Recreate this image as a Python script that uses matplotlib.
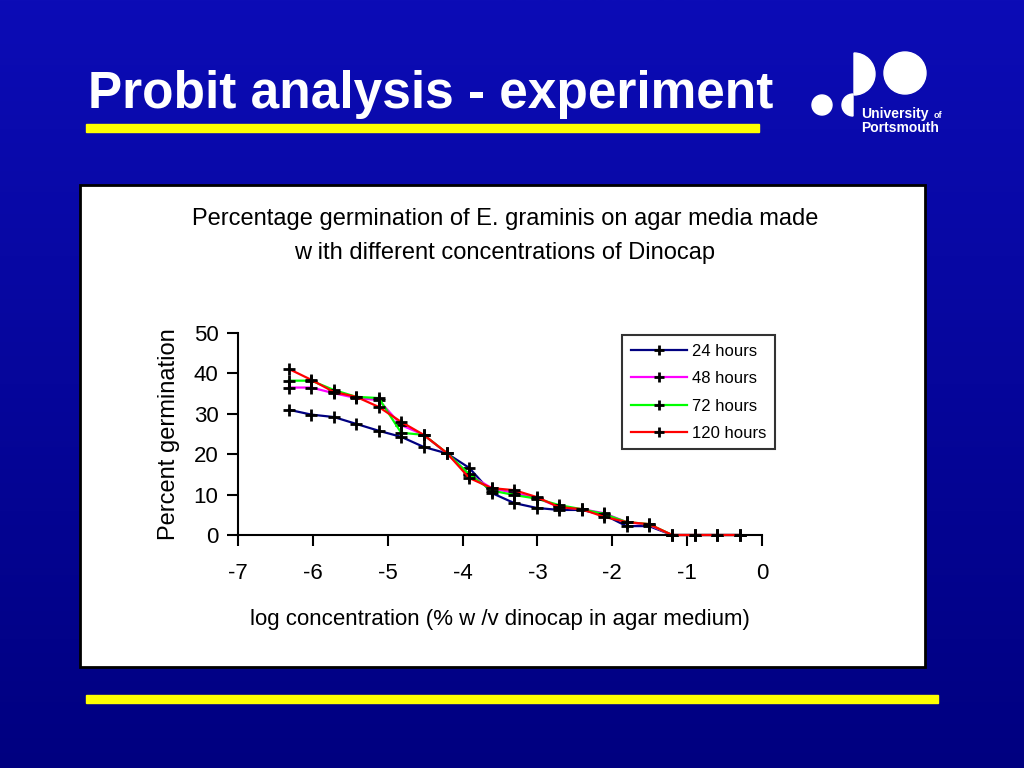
import numpy as np
import matplotlib
matplotlib.use('Agg')
import matplotlib.pyplot as plt
import matplotlib.patches as mpatches

plt.rcParams['font.family'] = ['Liberation Sans', 'DejaVu Sans']
plt.rcParams['axes.unicode_minus'] = False

# log concentration (% w/v dinocap), two-fold dilutions
logConc = [-6.32, -6.02, -5.72, -5.42, -5.12, -4.82, -4.52, -4.21, -3.91, -3.61, -3.31,
           -3.01, -2.71, -2.41, -2.11, -1.81, -1.51, -1.20, -0.90, -0.60, -0.30]

h24 = [31.0, 29.8, 29.2, 27.5, 25.8, 24.3, 21.8, 20.2, 16.6, 10.4, 7.9,
       6.7, 6.2, 6.2, 5.0, 2.2, 2.2, 0, 0, 0, 0]
h48 = [36.5, 36.5, 35.1, 33.9, 33.4, 27.2, 24.8, 20.2, 14.9, 11.6, 10.4,
       9.2, 6.9, 6.4, 5.4, 3.2, 2.5, 0, 0, 0, 0]
h72 = [38.2, 38.2, 35.9, 34.2, 33.9, 25.3, 24.8, 20.3, 15.0, 11.0, 9.9,
       9.0, 7.4, 6.4, 5.2, 3.2, 2.7, 0, 0, 0, 0]
h120 = [41.1, 38.4, 35.4, 34.2, 31.7, 28.0, 24.8, 20.3, 14.1, 11.6, 11.1,
        9.4, 6.9, 6.4, 4.5, 3.2, 2.7, 0, 0, 0, 0]

seriesNames = ['24 hours', '48 hours', '72 hours', '120 hours']
seriesColors = ['#000080', '#ff00ff', '#00ff00', '#ff0000']

fig = plt.figure(figsize=(10.24, 7.68), dpi=100)

# slide background, drawn in pixel coordinates
bg = fig.add_axes([0, 0, 1, 1])
bg.set_xlim(0, 1024)
bg.set_ylim(768, 0)
bg.axis('off')
top = np.array([12, 12, 182]) / 255.0
bot = np.array([0, 0, 128]) / 255.0
t = np.linspace(0, 1, 256)[:, None]
grad = (top[None, :] * (1 - t) + bot[None, :] * t)[:, None, :]
bg.imshow(grad, extent=[0, 1024, 768, 0], aspect='auto', zorder=0)

bg.add_patch(mpatches.Rectangle((86, 124), 673, 8, color='#ffff00', zorder=2))
bg.add_patch(mpatches.Rectangle((86, 695), 852, 8, color='#ffff00', zorder=2))
bg.add_patch(mpatches.Rectangle((80, 185), 845, 482, facecolor='white',
                                edgecolor='black', linewidth=2, zorder=2))

bg.text(88, 108, 'Probit analysis - experiment', color='white', fontsize=37,
        fontweight='bold', ha='left', va='baseline', zorder=3)

# university logo
bg.add_patch(mpatches.Circle((822, 105), 10, color='white', zorder=3))
bg.add_patch(mpatches.Wedge((853, 105), 11, 90, 270, color='white', zorder=3))
bg.add_patch(mpatches.Wedge((854, 74), 21, -90, 90, color='white', zorder=3))
bg.add_patch(mpatches.Circle((905, 73), 21, color='white', zorder=3))
bg.text(861, 118, 'University', color='white', fontsize=10, fontweight='bold',
        ha='left', va='baseline', zorder=3)
bg.text(934, 118, 'of', color='white', fontsize=6.5, fontweight='bold',
        ha='left', va='baseline', zorder=3)
bg.text(861, 132, 'Portsmouth', color='white', fontsize=10, fontweight='bold',
        ha='left', va='baseline', zorder=3)

bg.text(505, 225, 'Percentage germination of E. graminis on agar media made',
        fontsize=17, ha='center', va='baseline', zorder=3)
bg.text(505, 259, 'w ith different concentrations of Dinocap',
        fontsize=17, ha='center', va='baseline', zorder=3)

ax = fig.add_axes([238 / 1024, 1 - 535 / 768, 524 / 1024, 202 / 768])
ax.patch.set_alpha(0)
allSeries = [h24, h48, h72, h120]
for vals, name, col in zip(allSeries, seriesNames, seriesColors):
    ax.plot(logConc, vals, color=col, linewidth=1.6, marker='+', markersize=9,
            markeredgewidth=2, markeredgecolor='black', label=name,
            clip_on=False, zorder=3)

ax.set_xlim(-7, 0)
ax.set_ylim(0, 50)
ax.set_xticks(range(-7, 1))
ax.set_yticks(range(0, 51, 10))
for s in ['top', 'right']:
    ax.spines[s].set_visible(False)
for s in ['left', 'bottom']:
    ax.spines[s].set_linewidth(1.5)
ax.tick_params(axis='both', direction='out', length=8, width=1.5, labelsize=16)
ax.tick_params(axis='x', pad=12)
ax.tick_params(axis='y', pad=6)
ax.set_ylabel('Percent germination', fontsize=17, labelpad=10)
ax.set_xlabel('log concentration (% w /v dinocap in agar medium)', fontsize=16, labelpad=18)

leg = ax.legend(loc='upper left', bbox_to_anchor=(376 / 524, 1.03), fontsize=12,
                frameon=True, fancybox=False, handlelength=3.4, labelspacing=0.75,
                borderpad=0.5, handletextpad=0.3)
leg.get_frame().set_edgecolor('black')
leg.get_frame().set_linewidth(1.5)
for h in leg.legend_handles:
    h.set_markersize(7)

fig.savefig('out.png', dpi=100)
